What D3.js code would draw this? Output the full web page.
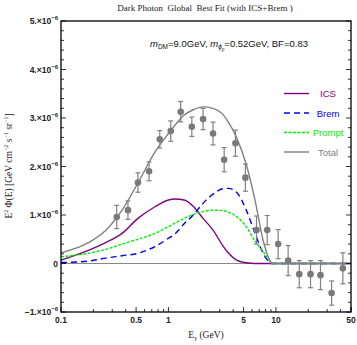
<!DOCTYPE html>
<html lang="en">
<head>
<meta charset="UTF-8">
<script src="https://d3js.org/d3.v7.min.js"></script>
<style>
  body { margin: 0; background: white; }
  .tick-lab { font-family: "Liberation Sans", Arial, sans-serif; font-size: 8.5px; font-weight: bold; fill: #222; }
  .serif { font-family: "Liberation Serif", "DejaVu Serif", serif; fill: #222; }
</style>
</head>
<body>
<div id="chart"></div>
<script>
// curve grid (GeV) and curves, in units of 1e-6
const curveE   = [0.1, 0.18, 0.26, 0.37, 0.52, 0.75, 1.0, 1.15, 1.4, 1.7, 2.1, 2.6, 3.2, 3.6, 4.3, 5.3, 6.4, 7.6, 8.8, 9.2, 50];
const icsVals  = [0.07, 0.27, 0.43, 0.62, 0.93, 1.17, 1.31, 1.33, 1.31, 1.18, 0.93, 0.69, 0.37, 0.22, 0.07, 0.015, 0, 0, 0, 0, 0];
const bremVals = [0.02, 0.05, 0.11, 0.16, 0.21, 0.35, 0.52, 0.61, 0.82, 1.0, 1.24, 1.43, 1.54, 1.55, 1.47, 1.10, 0.62, 0.21, 0.02, 0, 0];
const promptVals = [0.14, 0.21, 0.29, 0.40, 0.50, 0.62, 0.76, 0.83, 0.93, 1.01, 1.07, 1.10, 1.09, 1.06, 0.97, 0.76, 0.46, 0.25, 0.04, 0, 0];
const totalVals  = [0.22, 0.43, 0.68, 1.10, 1.66, 2.30, 2.68, 2.85, 3.06, 3.17, 3.23, 3.20, 3.08, 2.92, 2.60, 2.04, 1.30, 0.48, 0.06, 0, 0];

// data points
const dataE   = [0.33, 0.42, 0.52, 0.66, 0.83, 1.05, 1.3, 1.65, 2.1, 2.6, 3.3, 4.2, 5.2, 6.6, 8.3, 10.5, 13, 16.5, 21, 26, 33, 42];
const dataVal = [0.96, 1.10, 1.67, 1.90, 2.56, 2.73, 3.13, 2.82, 2.98, 2.68, 2.14, 2.48, 1.77, 0.69, 0.69, 0.40, 0.06, -0.22, -0.22, -0.24, -0.61, -0.10];
const dataErr = [0.24, 0.19, 0.20, 0.195, 0.18, 0.21, 0.21, 0.20, 0.22, 0.235, 0.25, 0.27, 0.28, 0.29, 0.30, 0.30, 0.31, 0.28, 0.28, 0.30, 0.25, 0.32];

const xTickVals = [0.1, 0.5, 1, 5, 10, 50];
const xTickLabels = ["0.1", "0.5", "1", "5", "10", "50"];
const yTickVals = [-1, 0, 1, 2, 3, 4, 5];

const legendNames = ["ICS", "Brem", "Prompt", "Total"];
const legendColors = ["#800080", "#0000ff", "#00ee00", "#808080"];
const legendDash = [null, "6,4", "3,1.5", null];

const width = 357, height = 345;
const margin = {left: 61, right: 6, top: 21, bottom: 33};

const svg = d3.select("#chart").append("svg")
    .attr("width", width).attr("height", height);

const x = d3.scaleLog().domain([0.1, 50]).range([margin.left, width - margin.right]);
const y = d3.scaleLinear().domain([-1, 5]).range([height - margin.bottom, margin.top]);

// zero line
svg.append("line")
    .attr("x1", x(0.1)).attr("x2", x(50))
    .attr("y1", y(0)).attr("y2", y(0))
    .attr("stroke", "#888").attr("stroke-width", 1);

// curves
const line = d3.line()
    .x(d => x(d[0])).y(d => y(d[1]))
    .curve(d3.curveMonotoneX);

const series = [icsVals, bremVals, promptVals, totalVals];
series.forEach((vals, i) => {
    svg.append("path")
        .attr("d", line(curveE.map((e, j) => [e, vals[j]])))
        .attr("fill", "none")
        .attr("stroke", legendColors[i])
        .attr("stroke-width", 1.4)
        .attr("stroke-dasharray", legendDash[i]);
});

// data points with error bars
const pts = svg.append("g");
dataE.forEach((e, i) => {
    const cx = x(e);
    const lo = y(dataVal[i] - dataErr[i]), hi = y(dataVal[i] + dataErr[i]);
    pts.append("line").attr("x1", cx).attr("x2", cx).attr("y1", lo).attr("y2", hi)
        .attr("stroke", "#808080").attr("stroke-width", 1.2);
    [lo, hi].forEach(yy => {
        pts.append("line").attr("x1", cx - 2.5).attr("x2", cx + 2.5).attr("y1", yy).attr("y2", yy)
            .attr("stroke", "#808080").attr("stroke-width", 1.2);
    });
    pts.append("circle").attr("cx", cx).attr("cy", y(dataVal[i])).attr("r", 3.3)
        .attr("fill", "#7a7a7a");
});

// frame
svg.append("rect")
    .attr("x", margin.left).attr("y", margin.top)
    .attr("width", width - margin.left - margin.right)
    .attr("height", height - margin.top - margin.bottom)
    .attr("fill", "none").attr("stroke", "#000").attr("stroke-width", 1.3);

// x ticks (major + minor), bottom only
const xMinor = [];
[0.1, 1, 10].forEach(d => { for (let k = 1; k < 10; k++) if (d * k <= 50) xMinor.push(d * k); });
xMinor.push(50);
xMinor.forEach(v => {
    const major = xTickVals.includes(+v.toPrecision(3));
    svg.append("line")
        .attr("x1", x(v)).attr("x2", x(v))
        .attr("y1", y(-1)).attr("y2", y(-1) - (major ? 5 : 3))
        .attr("stroke", "#000").attr("stroke-width", 0.8);
});
xTickVals.forEach((v, i) => {
    svg.append("text").attr("class", "tick-lab")
        .attr("x", x(v)).attr("y", y(-1) + 11)
        .attr("text-anchor", "middle").text(xTickLabels[i]);
});

// y ticks, left and right
d3.range(-1, 5.001, 0.2).forEach(v => {
    const major = Math.abs(v - Math.round(v)) < 1e-6;
    const len = major ? 5 : 3;
    [[margin.left, 1], [width - margin.right, -1]].forEach(([x0, s]) => {
        svg.append("line")
            .attr("x1", x0).attr("x2", x0 + s * len)
            .attr("y1", y(v)).attr("y2", y(v))
            .attr("stroke", "#000").attr("stroke-width", 0.8);
    });
});
yTickVals.forEach(v => {
    const t = svg.append("text").attr("class", "tick-lab")
        .attr("x", margin.left - 3).attr("y", y(v) + 3)
        .attr("text-anchor", "end");
    if (v === 0) { t.text("0"); return; }
    t.append("tspan").text((v < 0 ? "\u2212" : "") + Math.abs(v) + ".\u00d710");
    t.append("tspan").attr("dy", -4).attr("font-size", "6px").text("\u22126");
});

// title
svg.append("text").attr("class", "serif")
    .attr("x", 205).attr("y", 11).attr("text-anchor", "middle")
    .attr("font-size", "9px").attr("xml:space", "preserve")
    .text("Dark Photon  Global  Best Fit (with ICS+Brem )");

// annotation
const ann = svg.append("text")
    .attr("x", 150).attr("y", 47)
    .attr("font-family", "Liberation Sans, Arial, sans-serif")
    .attr("font-size", "9.5px").attr("fill", "#111");
ann.append("tspan").attr("font-style", "italic").text("m");
ann.append("tspan").attr("font-size", "6.5px").attr("dy", 2).text("DM");
ann.append("tspan").attr("dy", -2).text("=9.0GeV, ");
ann.append("tspan").attr("font-style", "italic").text("m");
ann.append("tspan").attr("font-size", "6.5px").attr("font-style", "italic").attr("dy", 2).text("\u03d5");
ann.append("tspan").attr("font-size", "4.5px").attr("font-style", "italic").attr("dy", 1.5).text("\u03c1");
ann.append("tspan").attr("dy", -3.5).text("=0.52GeV, BF=0.83");

// legend
legendNames.forEach((name, i) => {
    const ly = 93.5 + i * 19.5;
    svg.append("line")
        .attr("x1", 284).attr("x2", 309).attr("y1", ly).attr("y2", ly)
        .attr("stroke", legendColors[i]).attr("stroke-width", 1.4)
        .attr("stroke-dasharray", legendDash[i]);
    svg.append("text")
        .attr("x", 328).attr("y", ly + 3.5).attr("text-anchor", "middle")
        .attr("font-family", "Liberation Sans, Arial, sans-serif")
        .attr("font-size", "9.5px").attr("fill", legendColors[i]).text(name);
});

// axis labels
const xl = svg.append("text").attr("class", "serif")
    .attr("x", 206).attr("y", 338).attr("text-anchor", "middle").attr("font-size", "9.5px");
xl.append("tspan").text("E");
xl.append("tspan").attr("font-size", "6.5px").attr("dy", 2).text("\u03b3");
xl.append("tspan").attr("dy", -2).text(" (GeV)");

const yl = svg.append("text").attr("class", "serif")
    .attr("transform", "translate(12,166) rotate(-90)")
    .attr("text-anchor", "middle").attr("font-size", "9.5px");
yl.append("tspan").text("E");
yl.append("tspan").attr("font-size", "6px").attr("dy", -4).text("2");
yl.append("tspan").attr("dy", 4).text(" \u03a6(E) [GeV cm");
yl.append("tspan").attr("font-size", "6px").attr("dy", -4).text("\u22122");
yl.append("tspan").attr("dy", 4).text(" s");
yl.append("tspan").attr("font-size", "6px").attr("dy", -4).text("\u22121");
yl.append("tspan").attr("dy", 4).text(" sr");
yl.append("tspan").attr("font-size", "6px").attr("dy", -4).text("\u22121");
yl.append("tspan").attr("dy", 4).text("]");
</script>
</body>
</html>
